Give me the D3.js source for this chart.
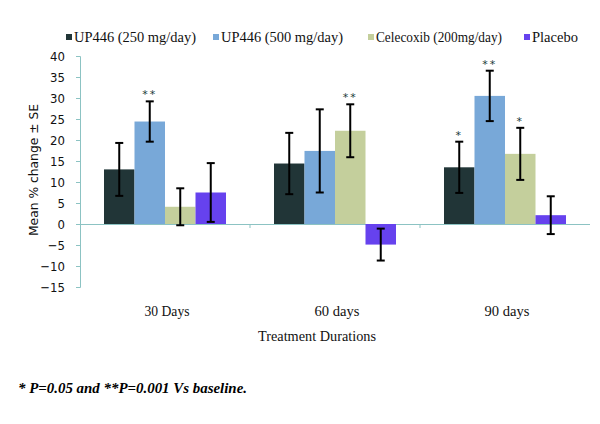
<!DOCTYPE html>
<html><head><meta charset="utf-8">
<script src="https://cdn.jsdelivr.net/npm/d3@7"></script>
<style>body{margin:0;background:#fff}svg{display:block}</style>
</head><body>
<script>
const categories = ["30 Days", "60 days", "90 days"];
const seriesNames = ["UP446 (250 mg/day)", "UP446 (500 mg/day)", "Celecoxib (200mg/day)", "Placebo"];
const colors = ["#213537", "#78a8d8", "#c4cf9c", "#6642ee"];
// values[series][category]
const values = [
  [13.0, 14.4, 13.5],
  [24.4, 17.4, 30.5],
  [4.1, 22.2, 16.7],
  [7.5, -4.9, 2.1]
];
const errors = [
  [6.3, 7.3, 6.1],
  [4.8, 9.9, 6.0],
  [4.4, 6.3, 6.2],
  [7.0, 3.8, 4.5]
];
const stars = [
  ["", "", "*"],
  ["**", "", "**"],
  ["", "**", "*"],
  ["", "", ""]
];
const yTicks = [40, 35, 30, 25, 20, 15, 10, 5, 0, -5, -10, -15];

const W = 600, H = 424;
const svg = d3.select("body").append("svg").attr("width", W).attr("height", H);

const x0 = d3.scaleBand().domain(categories).range([80, 590]).paddingInner(0).paddingOuter(0);
const x1 = d3.scaleBand().domain(d3.range(seriesNames.length)).range([24, x0.bandwidth() - 24]).padding(0);
const y = d3.scaleLinear().domain([-15, 40]).range([287, 56]);

// y axis
const yAxis = d3.axisLeft(y).tickValues(yTicks).tickSize(4).tickFormat(d3.format("d"));
const gy = svg.append("g").attr("transform", "translate(80,0)").call(yAxis);
gy.select(".domain").attr("stroke", "#8cc3c3").attr("d", "M-4,56.5H0.5V287.5H-4");
gy.selectAll(".tick line").attr("stroke", "#8cc3c3");
gy.selectAll(".tick text").attr("font-family", "DejaVu Sans Condensed, DejaVu Sans, sans-serif")
  .attr("font-size", 13).attr("fill", "#111").attr("x", -15);

// zero line / x axis
const xAxis = d3.axisBottom(x0).tickSize(3).tickFormat("");
const gx = svg.append("g").attr("transform", `translate(0,${y(0)})`).call(xAxis);
gx.select(".domain").attr("stroke", "#8cc3c3").attr("d", `M80,0.5H590`);
gx.selectAll(".tick").remove();
svg.append("g").selectAll("line").data(categories.slice(1)).join("line")
  .attr("x1", d => x0(d)).attr("x2", d => x0(d))
  .attr("y1", y(0)).attr("y2", y(0) + 4).attr("stroke", "#8cc3c3");

// bars
const groups = svg.append("g").selectAll("g").data(categories).join("g")
  .attr("transform", d => `translate(${x0(d)},0)`);
groups.each(function(cat, ci) {
  const g = d3.select(this);
  seriesNames.forEach((s, si) => {
    const v = values[si][ci];
    g.append("rect")
      .attr("x", x1(si)).attr("width", x1.bandwidth())
      .attr("y", y(Math.max(0, v))).attr("height", Math.abs(y(v) - y(0)))
      .attr("fill", colors[si]);
  });
  seriesNames.forEach((s, si) => {
    const v = values[si][ci], e = errors[si][ci];
    const cx = x1(si) + x1.bandwidth() / 2;
    g.append("line").attr("x1", cx).attr("x2", cx).attr("y1", y(v + e)).attr("y2", y(v - e))
      .attr("stroke", "#000").attr("stroke-width", 2);
    [v + e, v - e].forEach(t => g.append("line").attr("x1", cx - 4).attr("x2", cx + 4)
      .attr("y1", y(t)).attr("y2", y(t)).attr("stroke", "#000").attr("stroke-width", 2));
    if (stars[si][ci]) {
      g.append("text").attr("x", cx).attr("y", y(v + e) - 3)
        .attr("text-anchor", "middle").attr("font-family", "DejaVu Sans, sans-serif")
        .attr("font-size", 11).attr("fill", "#1a3a3a").attr("letter-spacing", 2)
        .text(stars[si][ci]);
    }
  });
});

// category labels
svg.append("g").selectAll("text").data(categories).join("text")
  .attr("x", d => x0(d) + x0.bandwidth() / 2 + 2).attr("y", 316)
  .attr("text-anchor", "middle").attr("font-family", "Liberation Serif, serif")
  .attr("font-size", 15).attr("fill", "#111")
  .attr("textLength", 45).attr("lengthAdjust", "spacingAndGlyphs").text(d => d);

svg.append("text").attr("x", 317).attr("y", 341).attr("text-anchor", "middle")
  .attr("font-family", "Liberation Serif, serif").attr("font-size", 15).attr("fill", "#111")
  .attr("textLength", 118).attr("lengthAdjust", "spacingAndGlyphs")
  .text("Treatment Durations");

svg.append("text").attr("transform", "translate(38,170) rotate(-90)").attr("text-anchor", "middle")
  .attr("font-family", "DejaVu Sans Condensed, DejaVu Sans, sans-serif").attr("font-size", 13).attr("fill", "#111")
  .attr("textLength", 132).attr("lengthAdjust", "spacingAndGlyphs")
  .text("Mean % change ± SE");

// legend
const legendX = [66, 213, 368, 524];
const legendW = [122, 122, 126, 46];
const lg = svg.append("g").selectAll("g").data(seriesNames).join("g")
  .attr("transform", (d, i) => `translate(${legendX[i]},42)`);
lg.append("rect").attr("x", 0).attr("y", -8).attr("width", 6).attr("height", 6).attr("fill", (d, i) => colors[i]);
lg.append("text").attr("x", 8).attr("y", 0).attr("font-family", "Liberation Serif, serif")
  .attr("font-size", 15).attr("fill", "#111")
  .attr("textLength", (d, i) => legendW[i]).attr("lengthAdjust", "spacingAndGlyphs").text(d => d);

// footnote
svg.append("text").attr("x", 18).attr("y", 393).attr("font-family", "Liberation Serif, serif")
  .attr("font-size", 15.5).attr("font-weight", "bold").attr("font-style", "italic").attr("fill", "#000")
  .attr("textLength", 229).attr("lengthAdjust", "spacingAndGlyphs")
  .text("* P=0.05 and **P=0.001 Vs baseline.");
</script>
</body></html>
